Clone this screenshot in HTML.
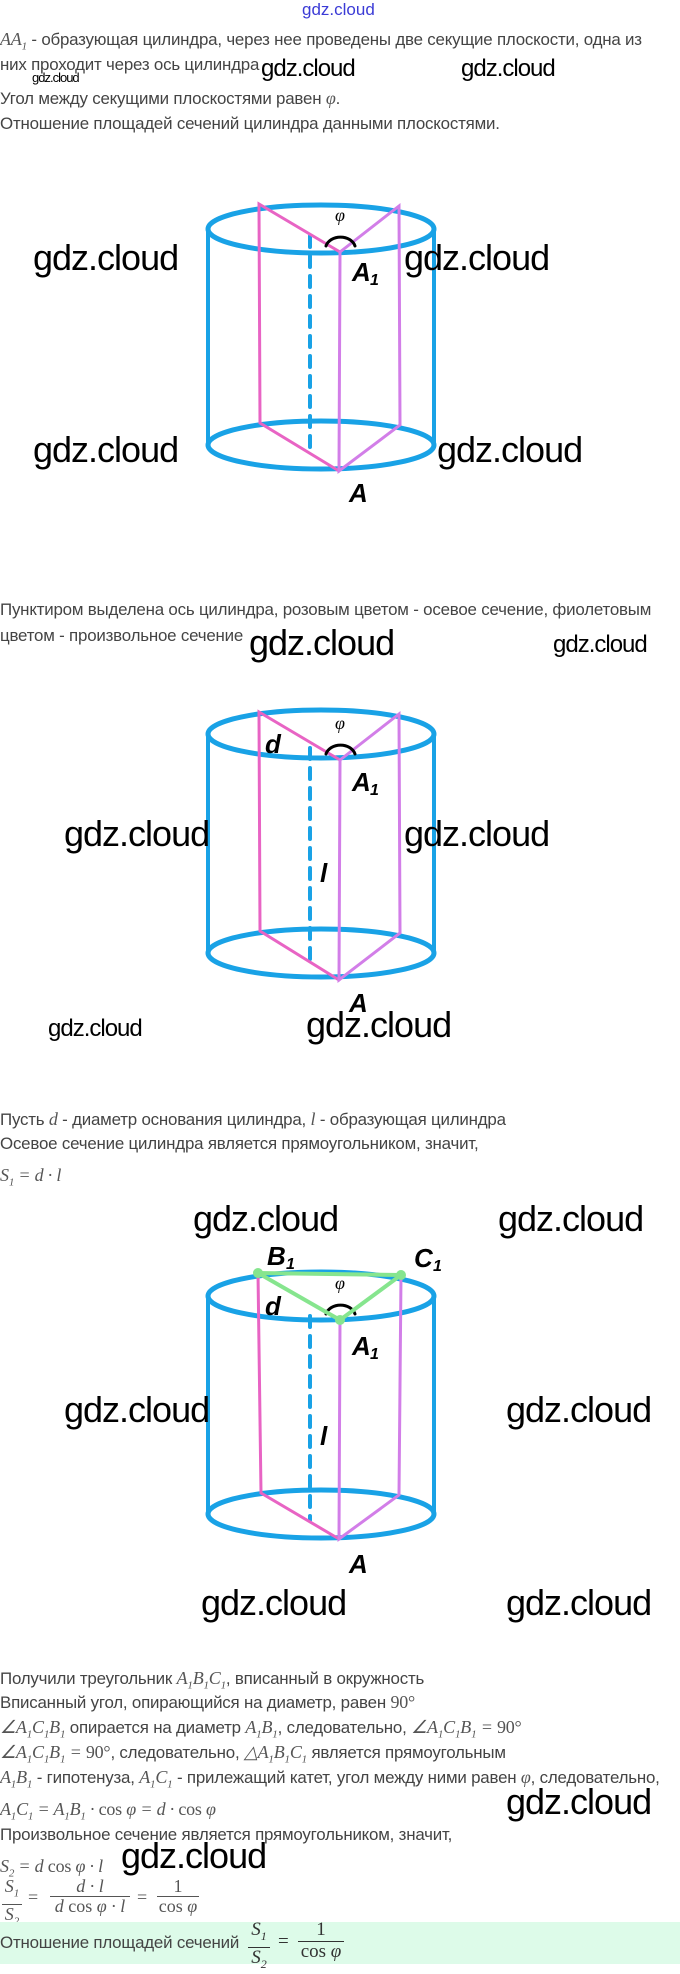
<!DOCTYPE html>
<html><head><meta charset="utf-8"><style>
body{margin:0;width:680px;height:1964px;background:#fff;position:relative;overflow:hidden;font-family:"Liberation Sans",sans-serif;}
.t{position:absolute;left:0;font-size:16.9px;color:#444;line-height:18px;white-space:nowrap;letter-spacing:-0.2px;}
.m{font-family:"Liberation Serif",serif;font-style:italic;font-size:18px;color:#555;}
.w{position:absolute;font-family:"Liberation Sans",sans-serif;color:#000;white-space:nowrap;line-height:1;letter-spacing:-1px;}
.L{font-size:36px;}
.M{font-size:24px;}
.S{font-size:13px;}
svg{position:absolute;left:0;top:0;}
.lab{font-family:"Liberation Sans",sans-serif;font-style:italic;font-weight:bold;fill:#000;}
</style></head><body>
<div class="w" style="left:302px;top:1px;font-size:17px;color:#3b3bd6;letter-spacing:0">gdz.cloud</div>
<div class="t" style="top:30px"><span class="m">AA<sub style="font-size:11px">1</sub></span> - образующая цилиндра, через нее проведены две секущие плоскости, одна из</div>
<div class="t" style="top:56px">них проходит через ось цилиндра</div>
<div class="t" style="top:89px">Угол между секущими плоскостями равен <span class="m">φ</span>.</div>
<div class="t" style="top:115px">Отношение площадей сечений цилиндра данными плоскостями.</div>
<div class="w S" style="left:32px;top:71px">gdz.cloud</div>
<div class="w M" style="left:261px;top:57px">gdz.cloud</div>
<div class="w M" style="left:461px;top:57px">gdz.cloud</div>

<svg width="680" height="1964">
<g fill="none" stroke-linecap="round">
<ellipse cx="321" cy="229" rx="113" ry="24" stroke="#19a2e6" stroke-width="5"/>
<ellipse cx="321" cy="445" rx="113" ry="24" stroke="#19a2e6" stroke-width="5"/>
<line x1="208" y1="229" x2="208" y2="445" stroke="#19a2e6" stroke-width="4"/>
<line x1="434" y1="229" x2="434" y2="445" stroke="#19a2e6" stroke-width="4"/>
<line x1="310" y1="236" x2="310" y2="450" stroke="#19a2e6" stroke-width="4" stroke-dasharray="11,9"/>
<polyline points="340,252 259,204 260,423 339,471" stroke="#e864c4" stroke-width="3"/>
<polyline points="340,252 399,206 400,425 339,471 340,252" stroke="#d27ee8" stroke-width="3"/>
<path d="M326,246 A15,12 0 0 1 355,246" stroke="#000" stroke-width="3"/>
<ellipse cx="321" cy="734" rx="113" ry="24" stroke="#19a2e6" stroke-width="5"/>
<ellipse cx="321" cy="953" rx="113" ry="24" stroke="#19a2e6" stroke-width="5"/>
<line x1="208" y1="734" x2="208" y2="953" stroke="#19a2e6" stroke-width="4"/>
<line x1="434" y1="734" x2="434" y2="953" stroke="#19a2e6" stroke-width="4"/>
<line x1="310" y1="748" x2="310" y2="960" stroke="#19a2e6" stroke-width="4" stroke-dasharray="11,9"/>
<polyline points="340,760 259,712 260,931 339,980" stroke="#e864c4" stroke-width="3"/>
<polyline points="340,760 399,714 400,933 339,980 340,760" stroke="#d27ee8" stroke-width="3"/>
<path d="M326,754 A15,12 0 0 1 355,754" stroke="#000" stroke-width="3"/>
<ellipse cx="321" cy="1296" rx="113" ry="24" stroke="#19a2e6" stroke-width="5"/>
<ellipse cx="321" cy="1514" rx="113" ry="24" stroke="#19a2e6" stroke-width="5"/>
<line x1="208" y1="1296" x2="208" y2="1514" stroke="#19a2e6" stroke-width="4"/>
<line x1="434" y1="1296" x2="434" y2="1514" stroke="#19a2e6" stroke-width="4"/>
<line x1="310" y1="1316" x2="310" y2="1520" stroke="#19a2e6" stroke-width="4" stroke-dasharray="11,9"/>
<polyline points="258,1273 261,1493 339,1539" stroke="#e864c4" stroke-width="3"/>
<polyline points="401,1275 399,1495 339,1539 340,1320" stroke="#d27ee8" stroke-width="3"/>
<path d="M326,1314 A15,12 0 0 1 355,1314" stroke="#000" stroke-width="3"/>
<polygon points="258,1273 401,1275 340,1320" stroke="#86e58e" stroke-width="4" stroke-linejoin="round"/>
</g>
<g fill="#86e58e"><circle cx="258" cy="1273" r="5"/><circle cx="401" cy="1275" r="5"/><circle cx="340" cy="1320" r="5"/></g>
<g font-family="Liberation Serif,serif" font-style="italic" font-size="18" fill="#000">
<text x="335" y="221">φ</text><text x="335" y="729">φ</text><text x="335" y="1289">φ</text>
</g>
<g class="lab" font-size="26">
<text x="352" y="281">A</text><text x="370" y="285" font-size="16">1</text>
<text x="349" y="502">A</text>
<text x="265" y="753">d</text>
<text x="352" y="791">A</text><text x="370" y="795" font-size="16">1</text>
<text x="320" y="882">l</text>
<text x="349" y="1012">A</text>
<text x="267" y="1265">B</text><text x="286" y="1269" font-size="16">1</text>
<text x="414" y="1267">C</text><text x="433" y="1271" font-size="16">1</text>
<text x="265" y="1315">d</text>
<text x="352" y="1355">A</text><text x="370" y="1359" font-size="16">1</text>
<text x="320" y="1445">l</text>
<text x="349" y="1573">A</text>
</g>
</svg>

<div class="w L" style="left:33px;top:240px">gdz.cloud</div>
<div class="w L" style="left:404px;top:240px">gdz.cloud</div>
<div class="w L" style="left:33px;top:432px">gdz.cloud</div>
<div class="w L" style="left:437px;top:432px">gdz.cloud</div>

<div class="t" style="top:601px">Пунктиром выделена ось цилиндра, розовым цветом - осевое сечение, фиолетовым</div>
<div class="t" style="top:627px">цветом - произвольное сечение</div>
<div class="w L" style="left:249px;top:625px">gdz.cloud</div>
<div class="w M" style="left:553px;top:633px">gdz.cloud</div>
<div class="w L" style="left:64px;top:816px">gdz.cloud</div>
<div class="w L" style="left:404px;top:816px">gdz.cloud</div>
<div class="w M" style="left:48px;top:1017px">gdz.cloud</div>
<div class="w L" style="left:306px;top:1007px">gdz.cloud</div>

<div class="t" style="top:1110px">Пусть <span class="m">d</span> - диаметр основания цилиндра, <span class="m">l</span> - образующая цилиндра</div>
<div class="t" style="top:1135px">Осевое сечение цилиндра является прямоугольником, значит,</div>
<div class="t" style="top:1166px"><span class="m">S<sub style="font-size:11px">1</sub> = d · l</span></div>
<div class="w L" style="left:193px;top:1201px">gdz.cloud</div>
<div class="w L" style="left:498px;top:1201px">gdz.cloud</div>
<div class="w L" style="left:64px;top:1392px">gdz.cloud</div>
<div class="w L" style="left:506px;top:1392px">gdz.cloud</div>
<div class="w L" style="left:201px;top:1585px">gdz.cloud</div>
<div class="w L" style="left:506px;top:1585px">gdz.cloud</div>

<div class="t" style="top:1669px">Получили треугольник <span class="m">A<sub style="font-size:11px">1</sub>B<sub style="font-size:11px">1</sub>C<sub style="font-size:11px">1</sub></span>, вписанный в окружность</div>
<div class="t" style="top:1693px">Вписанный угол, опирающийся на диаметр, равен <span class="m" style="font-style:normal">90°</span></div>
<div class="t" style="top:1718px"><span class="m">∠A<sub style="font-size:11px">1</sub>C<sub style="font-size:11px">1</sub>B<sub style="font-size:11px">1</sub></span> опирается на диаметр <span class="m">A<sub style="font-size:11px">1</sub>B<sub style="font-size:11px">1</sub></span>, следовательно, <span class="m">∠A<sub style="font-size:11px">1</sub>C<sub style="font-size:11px">1</sub>B<sub style="font-size:11px">1</sub> = <span style="font-style:normal">90°</span></span></div>
<div class="t" style="top:1743px"><span class="m">∠A<sub style="font-size:11px">1</sub>C<sub style="font-size:11px">1</sub>B<sub style="font-size:11px">1</sub> = <span style="font-style:normal">90°</span></span>, следовательно, <span class="m">△A<sub style="font-size:11px">1</sub>B<sub style="font-size:11px">1</sub>C<sub style="font-size:11px">1</sub></span> является прямоугольным</div>
<div class="t" style="top:1768px"><span class="m">A<sub style="font-size:11px">1</sub>B<sub style="font-size:11px">1</sub></span> - гипотенуза, <span class="m">A<sub style="font-size:11px">1</sub>C<sub style="font-size:11px">1</sub></span> - прилежащий катет, угол между ними равен <span class="m">φ</span>, следовательно,</div>
<div class="t" style="top:1800px"><span class="m">A<sub style="font-size:11px">1</sub>C<sub style="font-size:11px">1</sub> = A<sub style="font-size:11px">1</sub>B<sub style="font-size:11px">1</sub> · <span style="font-style:normal">cos</span> φ = d · <span style="font-style:normal">cos</span> φ</span></div>
<div class="t" style="top:1826px">Произвольное сечение является прямоугольником, значит,</div>
<div class="t" style="top:1857px"><span class="m">S<sub style="font-size:11px">2</sub> = d <span style="font-style:normal">cos</span> φ · l</span></div>
<div class="w L" style="left:506px;top:1784px">gdz.cloud</div>
<div class="w L" style="left:121px;top:1838px">gdz.cloud</div>

<div style="position:absolute;left:0;top:1877px;font-family:'Liberation Serif',serif;font-style:italic;font-size:18px;color:#555;">
<div style="position:absolute;left:2px;top:0;width:20px;text-align:center;line-height:18px">S<sub style="font-size:11px">1</sub><div style="border-top:1px solid #555;margin-top:1px"></div>S<sub style="font-size:11px">2</sub></div>
<div style="position:absolute;left:28px;top:10px;font-style:normal">=</div>
<div style="position:absolute;left:50px;top:0;width:80px;text-align:center;line-height:18px">d · l<div style="border-top:1px solid #555;margin-top:1px"></div>d <span style="font-style:normal">cos</span> φ · l</div>
<div style="position:absolute;left:137px;top:10px;font-style:normal">=</div>
<div style="position:absolute;left:157px;top:0;width:42px;text-align:center;line-height:18px"><span style="font-style:normal">1</span><div style="border-top:1px solid #555;margin-top:1px"></div><span style="font-style:normal">cos</span> φ</div>
</div>
<div style="position:absolute;left:0;top:1922px;width:680px;height:42px;background:#ddfbe9"></div>
<div class="t" style="top:1934px">Отношение площадей сечений</div>
<div style="position:absolute;left:248px;top:1920px;font-family:'Liberation Serif',serif;font-style:italic;font-size:19px;color:#333;">
<div style="position:absolute;left:0;top:0;width:22px;text-align:center;line-height:20px">S<sub style="font-size:12px">1</sub><div style="border-top:1px solid #333;margin-top:1px"></div>S<sub style="font-size:12px">2</sub></div>
<div style="position:absolute;left:30px;top:11px;font-style:normal">=</div>
<div style="position:absolute;left:50px;top:0;width:46px;text-align:center;line-height:20px"><span style="font-style:normal">1</span><div style="border-top:1px solid #333;margin-top:1px"></div><span style="font-style:normal">cos</span> φ</div>
</div>
</body></html>
